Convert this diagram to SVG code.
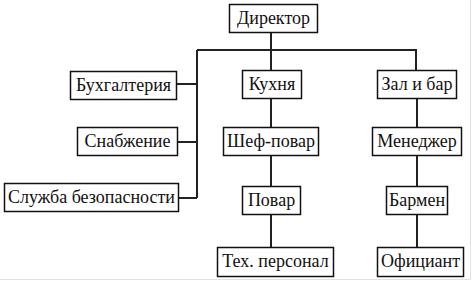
<svg xmlns="http://www.w3.org/2000/svg" width="474" height="282" viewBox="0 0 474 282">
<style>
.b{fill:#fff;stroke:#111;stroke-width:1.5}
.t{font-family:'Liberation Serif','DejaVu Serif',serif;font-size:18px;fill:#111;text-anchor:middle}
.c{fill:none;stroke:#222;stroke-width:2}
</style>
<rect width="474" height="282" fill="#fff"/>
<path d="M470.5 0V279.5H0" fill="none" stroke="#e2e2e2" stroke-width="1"/>
<g id="connectors">
<path class="c" d="M271 32V70M197 50H416V70M197 50V198M176 84H197M177 142H197M178 198H197M271 98V127M271 155V186M271 214V247M417 98V127M417 155V186M417 214V247"/>
</g>
<g id="director"><rect class="b" x="229.5" y="4.5" width="88" height="28"/><text class="t" x="273.5" y="24">Директор</text></g>
<g id="buh"><rect class="b" x="70.5" y="71.5" width="106" height="28"/><text class="t" x="123.5" y="91">Бухгалтерия</text></g>
<g id="snab"><rect class="b" x="77.5" y="127.5" width="100" height="28"/><text class="t" x="127.5" y="147">Снабжение</text></g>
<g id="sec"><rect class="b" x="4.5" y="183.5" width="174" height="28"/><text class="t" x="91.5" y="203">Служба безопасности</text></g>
<g id="kitchen"><rect class="b" x="242.5" y="70.5" width="59" height="28"/><text class="t" x="272" y="90">Кухня</text></g>
<g id="hall"><rect class="b" x="377.5" y="70.5" width="79" height="28"/><text class="t" x="417" y="90">Зал и бар</text></g>
<g id="chef"><rect class="b" x="223.5" y="127.5" width="95" height="28"/><text class="t" x="271" y="147">Шеф-повар</text></g>
<g id="manager"><rect class="b" x="372.5" y="127.5" width="89" height="28"/><text class="t" x="417" y="147">Менеджер</text></g>
<g id="cook"><rect class="b" x="242.5" y="186.5" width="58" height="28"/><text class="t" x="271.5" y="206">Повар</text></g>
<g id="barman"><rect class="b" x="386.5" y="186.5" width="61" height="28"/><text class="t" x="417" y="206">Бармен</text></g>
<g id="tech"><rect class="b" x="217.5" y="247.5" width="116" height="29"/><text class="t" x="275.5" y="267">Тех. персонал</text></g>
<g id="waiter"><rect class="b" x="377.5" y="247.5" width="86" height="29"/><text class="t" x="420.5" y="267">Официант</text></g>
</svg>
